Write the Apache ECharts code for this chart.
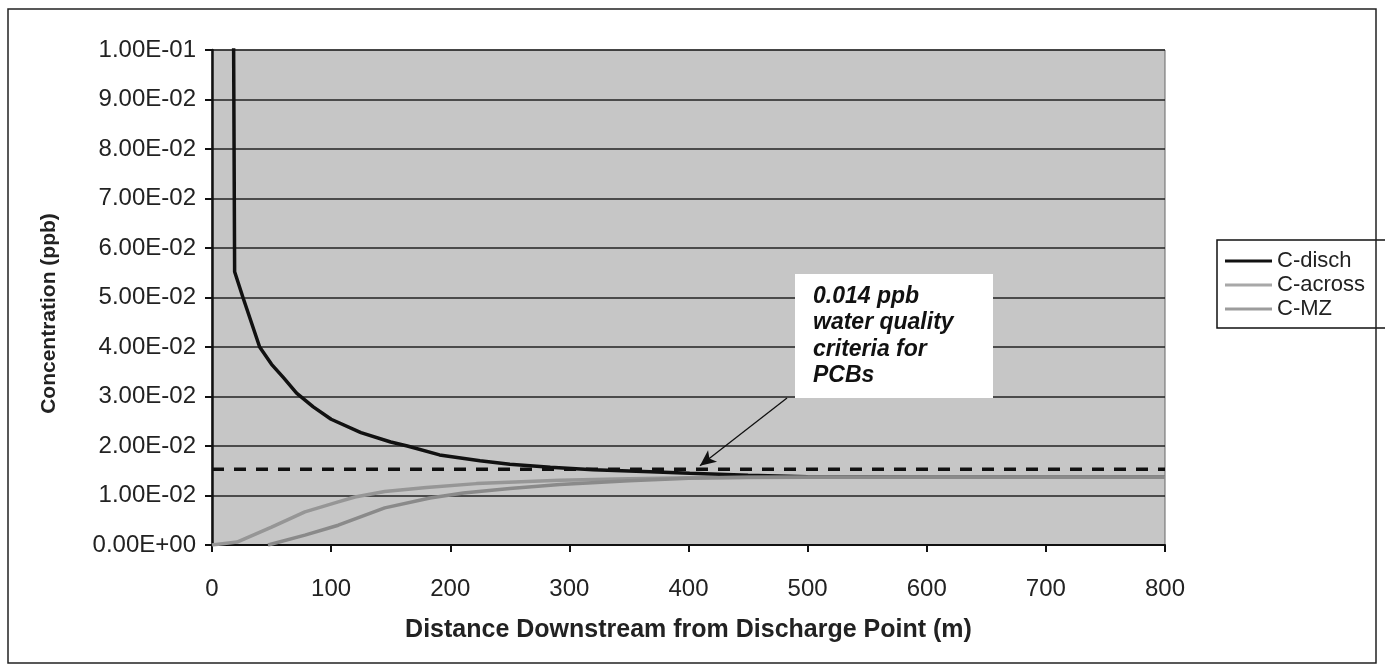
<!DOCTYPE html>
<html>
<head>
<meta charset="utf-8">
<script src="https://cdn.jsdelivr.net/npm/echarts@6/dist/echarts.min.js"></script>
<style>
html,body{margin:0;padding:0;background:#fff;}
#chart{width:1385px;height:672px;}
</style>
</head>
<body>
<div id="chart"></div>
<script>
// Distance downstream (m), concentration (ppb)
const cDisch = [
  [17.6, 0.13], [19, 0.0552], [26, 0.0500], [40, 0.0400], [50, 0.0365], [60, 0.0338],
  [71, 0.0307], [85, 0.0279], [100, 0.0254], [125, 0.0227], [150, 0.0208], [164, 0.0200],
  [191, 0.0182], [225, 0.0170], [250, 0.0163], [284, 0.0157], [320, 0.0152], [368, 0.0148],
  [401, 0.0145], [450, 0.0141], [500, 0.0138], [600, 0.0137], [700, 0.0137], [800, 0.0137]
];
const cAcross = [
  [0, 0], [21, 0.0006], [50, 0.0036], [78, 0.0067], [106, 0.0087], [120, 0.0097],
  [145, 0.0108], [180, 0.0116], [222, 0.0124], [292, 0.0131], [350, 0.0134], [400, 0.0136],
  [500, 0.0137], [600, 0.0137], [700, 0.0137], [800, 0.0137]
];
const cMZ = [
  [47, 0], [78, 0.0020], [106, 0.0040], [145, 0.0075], [183, 0.0095], [211, 0.0105],
  [250, 0.0114], [292, 0.0122], [350, 0.0130], [400, 0.0135], [450, 0.0137], [500, 0.0137],
  [600, 0.0137], [700, 0.0137], [800, 0.0137]
];
const criterionLine = [[0, 0.0153], [800, 0.0153]];
const arrowFrom = [482.7, 0.0297];
const arrowTo = [409.6, 0.0160];
const yTickLabels = ['0.00E+00','1.00E-02','2.00E-02','3.00E-02','4.00E-02','5.00E-02',
                     '6.00E-02','7.00E-02','8.00E-02','9.00E-02','1.00E-01'];
const xTickLabels = ['0','100','200','300','400','500','600','700','800'];
const seriesNames = ['C-disch','C-across','C-MZ'];
const annotationText = '0.014 ppb\nwater quality\ncriteria for\nPCBs';

const FONT = '"Liberation Sans", Arial, Helvetica, sans-serif';
const chart = echarts.init(document.getElementById('chart'), null, {renderer: 'canvas'});

chart.setOption({
  animation: false,
  backgroundColor: '#ffffff',
  textStyle: {fontFamily: FONT},
  grid: {
    left: 212, right: 220, top: 50, bottom: 127,
    show: true, backgroundColor: '#c6c6c6', borderColor: '#666', borderWidth: 1,
    containLabel: false
  },
  legend: {
    orient: 'vertical',
    left: 1217, top: 240,
    data: seriesNames,
    icon: 'rect',
    backgroundColor: '#ffffff',
    borderColor: '#111', borderWidth: 1.5, borderRadius: 0,
    padding: [10, 80, 8, 8],
    itemWidth: 47, itemHeight: 3, itemGap: 2,
    textStyle: {fontFamily: FONT, fontSize: 22, color: '#222', lineHeight: 22},
    selectedMode: false
  },
  xAxis: {
    type: 'value', min: 0, max: 800, interval: 100,
    name: 'Distance Downstream from Discharge Point (m)',
    nameLocation: 'middle', nameGap: 73,
    nameTextStyle: {fontFamily: FONT, fontSize: 25, fontWeight: 'bold', color: '#222'},
    axisLine: {show: true, onZero: false, lineStyle: {color: '#111', width: 2}},
    axisTick: {show: true, length: 7, lineStyle: {color: '#111', width: 2}},
    axisLabel: {
      fontFamily: FONT, fontSize: 24, color: '#222', margin: 32,
      formatter: function (v) { return xTickLabels[Math.round(v / 100)]; }
    },
    splitLine: {show: false}
  },
  yAxis: {
    type: 'value', min: 0, max: 0.1, interval: 0.01,
    name: 'Concentration (ppb)',
    nameLocation: 'middle', nameGap: 152,
    nameTextStyle: {fontFamily: FONT, fontSize: 21, fontWeight: 'bold', color: '#222', padding: [0, 32, 0, 0]},
    axisLine: {show: true, lineStyle: {color: '#111', width: 2.5}},
    axisTick: {show: true, length: 7, lineStyle: {color: '#111', width: 2}},
    axisLabel: {
      fontFamily: FONT, fontSize: 24, color: '#222', margin: 16, padding: [9, 0, 0, 0],
      formatter: function (v) { return yTickLabels[Math.round(v / 0.01)]; }
    },
    splitLine: {show: true, lineStyle: {color: '#222', width: 1.5}}
  },
  series: [
    {
      name: seriesNames[0], type: 'line', data: cDisch,
      symbol: 'none', showSymbol: false, clip: true, z: 2,
      lineStyle: {color: '#111', width: 3.5},
      itemStyle: {color: '#111'}
    },
    {
      name: 'criterion', type: 'line', data: criterionLine,
      symbol: 'none', showSymbol: false, z: 3, silent: true,
      lineStyle: {color: '#111', width: 3.5, type: [12, 10]},
      itemStyle: {color: '#111'}
    },
    {
      name: seriesNames[1], type: 'line', data: cAcross,
      symbol: 'none', showSymbol: false, z: 4,
      lineStyle: {color: '#969696', width: 3.5},
      itemStyle: {color: '#a8a8a8'}
    },
    {
      name: seriesNames[2], type: 'line', data: cMZ,
      symbol: 'none', showSymbol: false, z: 4,
      lineStyle: {color: '#8a8a8a', width: 3.5},
      itemStyle: {color: '#9c9c9c'},
      markLine: {
        silent: true, symbol: ['none', 'arrow'], symbolSize: [11, 16], z: 5,
        precision: 6,
        label: {show: false},
        lineStyle: {color: '#111', width: 1.3, type: 'solid'},
        data: [[{coord: arrowFrom}, {coord: arrowTo}]]
      }
    }
  ],
  graphic: [
    {
      type: 'rect', z: 100,
      shape: {x: 795, y: 274, width: 198, height: 124},
      style: {fill: '#ffffff', stroke: null}
    },
    {
      type: 'text', z: 101,
      left: 813, top: 283,
      style: {
        text: annotationText,
        font: 'italic bold 23px ' + FONT,
        fill: '#111', lineHeight: 26.5
      }
    },
    {
      type: 'rect', z: 100,
      shape: {x: 8, y: 9, width: 1368, height: 654},
      style: {fill: 'none', stroke: '#222', lineWidth: 1.5}
    }
  ]
});
</script>
</body>
</html>
